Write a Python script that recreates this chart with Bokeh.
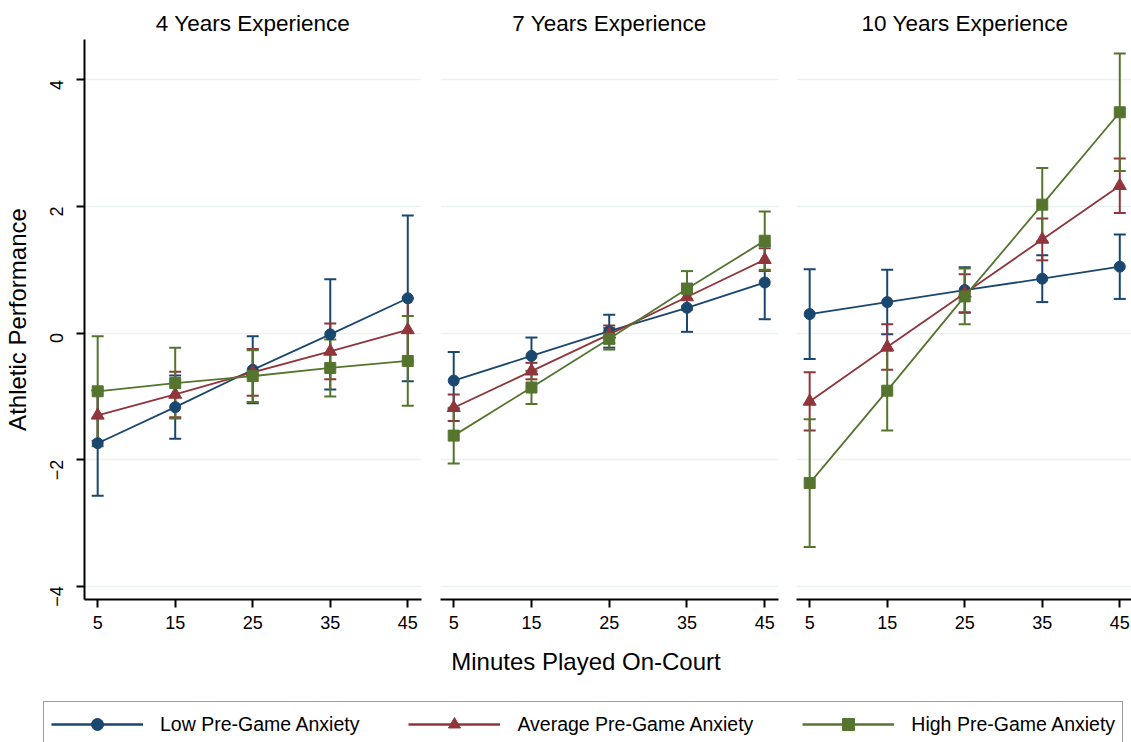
import math
from bokeh.plotting import figure
from bokeh.models import Range1d, FixedTicker, Label, Legend, LegendItem, ColumnDataSource
from bokeh.layouts import row, column
from bokeh.embed import file_html
from bokeh.resources import INLINE

# ---------------- data ----------------
minutes = [5, 15, 25, 35, 45]
y_ticks = [-4, -2, 0, 2, 4]
panel_titles = ["4 Years Experience", "7 Years Experience", "10 Years Experience"]
series_labels = ["Low Pre-Game Anxiety", "Average Pre-Game Anxiety", "High Pre-Game Anxiety"]
x_title = "Minutes Played On-Court"
y_title = "Athletic Performance"

# point estimates, one list per panel (4, 7, 10 years)
low_mean = [[-1.74, -1.17, -0.58, -0.02, 0.55],
            [-0.75, -0.36, 0.03, 0.40, 0.80],
            [0.30, 0.49, 0.68, 0.86, 1.05]]
avg_mean = [[-1.30, -0.97, -0.62, -0.29, 0.05],
            [-1.18, -0.60, -0.02, 0.57, 1.16],
            [-1.08, -0.22, 0.63, 1.48, 2.33]]
high_mean = [[-0.92, -0.79, -0.68, -0.55, -0.44],
             [-1.62, -0.86, -0.09, 0.70, 1.46],
             [-2.37, -0.91, 0.58, 2.03, 3.49]]
# half-widths of the confidence intervals
low_ci = [[0.83, 0.50, 0.53, 0.87, 1.31],
          [0.45, 0.29, 0.26, 0.38, 0.58],
          [0.71, 0.51, 0.36, 0.37, 0.51]]
avg_ci = [[0.40, 0.36, 0.37, 0.44, 0.50],
          [0.21, 0.13, 0.14, 0.20, 0.18],
          [0.46, 0.36, 0.30, 0.33, 0.43]]
high_ci = [[0.87, 0.56, 0.41, 0.45, 0.71],
           [0.44, 0.26, 0.17, 0.28, 0.46],
           [1.01, 0.63, 0.44, 0.58, 0.93]]

# ---------------- style ----------------
FONT = "Liberation Sans"
colors = ["#1a476f", "#90353b", "#55752f"]
markers = ["circle", "triangle", "square"]
msizes = [11, 13, 11]
GRID = "#eaf2f3"

means = [low_mean, avg_mean, high_mean]
cis = [low_ci, avg_ci, high_ci]

X_RANGE = (3.3, 46.77)
Y_RANGE = (-4.21, 4.64)

# per-panel (border_left, frame_width, border_right)
geom = [(81, 337, 19), (0, 338, 18), (0, 337, 1)]


def make_panel(i):
    bl, fw, br = geom[i]
    p = figure(frame_width=fw, frame_height=560,
               min_border_left=bl, min_border_right=br,
               min_border_top=39, min_border_bottom=41,
               x_range=Range1d(*X_RANGE), y_range=Range1d(*Y_RANGE),
               y_axis_location="left" if i == 0 else None,
               output_backend="svg", toolbar_location=None,
               background_fill_color="white", border_fill_color="white")
    p.outline_line_color = None
    p.title.text = panel_titles[i]
    p.title.align = "center"
    p.title.text_font = FONT
    p.title.text_font_size = "22.5px"
    p.title.text_font_style = "normal"
    p.title.text_color = "black"
    p.title.standoff = 7

    p.xgrid.visible = False
    p.ygrid.ticker = FixedTicker(ticks=y_ticks)
    p.ygrid.grid_line_color = GRID
    p.ygrid.grid_line_width = 1.5

    xa = p.xaxis[0]
    xa.ticker = FixedTicker(ticks=minutes)
    xa.axis_line_width = 2
    xa.axis_line_color = "black"
    xa.major_tick_line_width = 2
    xa.major_tick_line_color = "black"
    xa.major_tick_out = 8
    xa.major_tick_in = 0
    xa.minor_tick_line_color = None
    xa.major_label_text_font = FONT
    xa.major_label_text_font_size = "18px"
    xa.major_label_text_color = "black"
    xa.major_label_standoff = 8

    if i == 0:
        ya = p.yaxis[0]
        ya.ticker = FixedTicker(ticks=y_ticks)
        ya.axis_line_width = 2
        ya.axis_line_color = "black"
        ya.major_tick_line_width = 2
        ya.major_tick_line_color = "black"
        ya.major_tick_out = 8
        ya.major_tick_in = 0
        ya.minor_tick_line_color = None
        ya.major_label_text_font = FONT
        ya.major_label_text_font_size = "18px"
        ya.major_label_text_color = "black"
        ya.major_label_orientation = math.pi / 2
        ya.major_label_standoff = 20
        ya.axis_label = y_title
        ya.axis_label_text_font = FONT
        ya.axis_label_text_font_size = "24px"
        ya.axis_label_text_font_style = "normal"
        ya.axis_label_text_color = "black"
        ya.axis_label_standoff = 10

    # confidence intervals first
    for s in range(3):
        m = means[s][i]
        c = cis[s][i]
        src = ColumnDataSource(dict(
            x=minutes,
            lo=[a - b for a, b in zip(m, c)],
            hi=[a + b for a, b in zip(m, c)]))
        p.segment(x0="x", y0="lo", x1="x", y1="hi", source=src,
                  line_color=colors[s], line_width=2)
        p.scatter(x="x", y="lo", source=src, marker="dash", size=12,
                  line_color=colors[s], line_width=2)
        p.scatter(x="x", y="hi", source=src, marker="dash", size=12,
                  line_color=colors[s], line_width=2)
    # lines and markers
    for s in range(3):
        src = ColumnDataSource(dict(x=minutes, y=means[s][i]))
        p.line(x="x", y="y", source=src, line_color=colors[s], line_width=1.8)
        p.scatter(x="x", y="y", source=src, marker=markers[s], size=msizes[s],
                  fill_color=colors[s], line_color=colors[s])
    return p


panels = [make_panel(i) for i in range(3)]

# ---------------- bottom strip: x title + legend ----------------
pb = figure(width=1131, height=102, min_border=0,
            x_range=Range1d(0, 1), y_range=Range1d(0, 1),
            x_axis_location=None, y_axis_location=None,
            output_backend="svg", toolbar_location=None,
            background_fill_color="white", border_fill_color="white")
pb.outline_line_color = None
pb.grid.visible = False

pb.add_layout(Label(x=585.5, y=81, x_units="screen", y_units="screen",
                    text=x_title, text_align="center", text_baseline="middle",
                    text_font=FONT, text_font_size="24px", text_color="black"))

# legend proxies: real series data, lying outside this strip's (0..1) ranges
items = []
for s in range(3):
    src = ColumnDataSource(dict(x=minutes, y=means[s][0]))
    rl = pb.line(x="x", y="y", source=src, line_color=colors[s], line_width=2.6)
    rm = pb.scatter(x="x", y="y", source=src, marker=markers[s], size=msizes[s],
                    fill_color=colors[s], line_color=colors[s])
    items.append(LegendItem(label=series_labels[s], renderers=[rl, rm]))

legend = Legend(items=items, orientation="horizontal", location=(43, -5),
                glyph_width=92, glyph_height=30, label_height=30,
                label_standoff=17, spacing=49, padding=7, margin=0,
                label_text_font=FONT, label_text_font_size="19.5px",
                label_text_color="black",
                border_line_color="#3c3c3c", border_line_width=1.5,
                background_fill_color="white", background_fill_alpha=1)
pb.add_layout(legend)

layout = column(row(*panels), pb)

open("out.html", "w").write(file_html(layout, INLINE))
